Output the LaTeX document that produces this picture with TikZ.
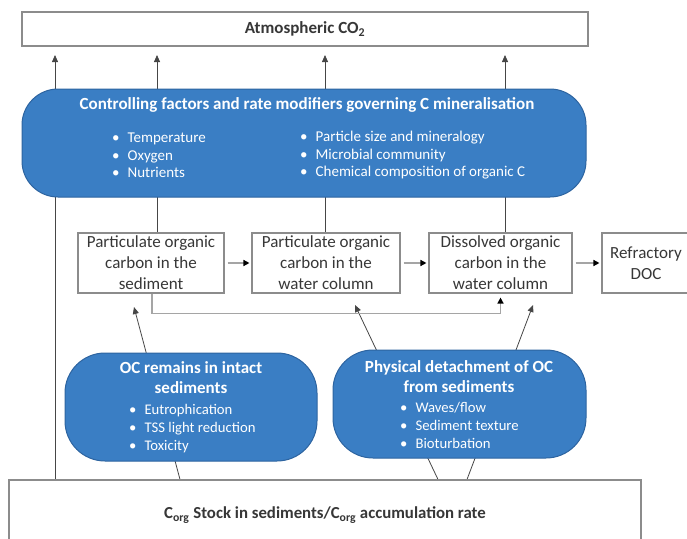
\documentclass[tikz,border=0pt]{standalone}
\usepackage{fontspec}
\setmainfont{Carlito}
\usetikzlibrary{arrows.meta,backgrounds}
\definecolor{cblue}{RGB}{58,126,196}
\definecolor{cbord}{RGB}{45,100,160}
\definecolor{lgray}{RGB}{140,140,140}
\definecolor{hgray}{RGB}{165,165,165}
\definecolor{dgray}{RGB}{70,70,70}
\definecolor{tgray}{RGB}{55,55,55}
\begin{document}
\begin{tikzpicture}[x=1pt,y=-1pt,
 wbox/.style={draw=lgray,line width=1.1pt,fill=white,inner sep=0pt,align=center,text=tgray},
 bbox/.style={draw=cbord,line width=1pt,fill=cblue,rounded corners=36pt,inner sep=0pt},
 wtxt/.style={text=white,align=left,inner sep=0pt},
 arr/.style={draw=dgray,line width=0.8pt,-{Triangle[length=7pt,width=6pt]}},
 harr/.style={draw=hgray,line width=1.4pt,-{Triangle[length=6pt,width=6pt,color=black]}},
]
\useasboundingbox (0,0) rectangle (687,538);

% boxes
\node[wbox,minimum width=566pt,minimum height=34pt,font=\fontsize{17}{19}\selectfont\bfseries] (atm) at (305,29) {Atmospheric CO\textsubscript{2}};

\node[bbox,minimum width=564pt,minimum height=108pt] (ctrl) at (304,143) {};
\node[wtxt,font=\fontsize{17}{19}\selectfont\bfseries] (ctrlT) at (307,105) {Controlling factors and rate modifiers governing C mineralisation};
\node[wtxt,anchor=west,font=\fontsize{15}{17.5}\selectfont] (ctrlL) at (112,155.5) {\textbullet\hspace{8pt}Temperature\\\textbullet\hspace{8pt}Oxygen\\\textbullet\hspace{8pt}Nutrients};
\node[wtxt,anchor=west,font=\fontsize{15}{17.5}\selectfont] (ctrlR) at (300,155.5) {\textbullet\hspace{8pt}Particle size and mineralogy\\\textbullet\hspace{8pt}Microbial community\\\textbullet\hspace{8pt}Chemical composition of organic C};

\node[wbox,minimum width=146pt,minimum height=60pt,font=\fontsize{17}{21}\selectfont] (p1) at (151,263) {Particulate organic\\carbon in the\\sediment};
\node[wbox,minimum width=148pt,minimum height=60pt,font=\fontsize{17}{21}\selectfont] (p2) at (326,263) {Particulate organic\\carbon in the\\water column};
\node[wbox,minimum width=143pt,minimum height=60pt,font=\fontsize{17}{21}\selectfont] (p3) at (500.5,263) {Dissolved organic\\carbon in the\\water column};
\node[wbox,minimum width=88pt,minimum height=60pt,font=\fontsize{17}{21}\selectfont] (p4) at (646,263) {Refractory\\DOC};

\node[bbox,minimum width=252pt,minimum height=108pt,rounded corners=40pt] (oc) at (191,407) {};
\node[wtxt,align=center,font=\fontsize{17}{20}\selectfont\bfseries] (ocT) at (191,378) {OC remains in intact\\sediments};
\node[wtxt,anchor=west,font=\fontsize{14.7}{18}\selectfont] (ocB) at (129,429) {\textbullet\hspace{8pt}Eutrophication\\\textbullet\hspace{8pt}TSS light reduction\\\textbullet\hspace{8pt}Toxicity};

\node[bbox,minimum width=253pt,minimum height=108pt,rounded corners=40pt] (ph) at (459.5,404) {};
\node[wtxt,align=center,font=\fontsize{17}{20}\selectfont\bfseries] (phT) at (459,377) {Physical detachment of OC\\from sediments};
\node[wtxt,anchor=west,font=\fontsize{14.7}{18}\selectfont] (phB) at (400,425) {\textbullet\hspace{8pt}Waves/flow\\\textbullet\hspace{8pt}Sediment texture\\\textbullet\hspace{8pt}Bioturbation};

\node[wbox,minimum width=632pt,minimum height=70pt,font=\fontsize{16.8}{19}\selectfont\bfseries] (stock) at (325,515) {C\textsubscript{org} Stock in sediments/C\textsubscript{org} accumulation rate};

% free ends
\coordinate (t1) at (55,55);
\coordinate (t2) at (157,55);
\coordinate (t3) at (325,55);
\coordinate (t4) at (505,55);
\coordinate (b1) at (134,307);
\coordinate (b2) at (355,305);
\coordinate (b3) at (533,305);

\begin{scope}[on background layer]
\draw[arr] (stock.north -| t1) -- (t1);
\draw[arr] (p1.north -| t2) -- (t2);
\draw[arr] (p2.north -| t3) -- (t3);
\draw[arr] (p3.north -| t4) -- (t4);
\draw[arr] ([xshift=-145pt]stock.north) -- (b1);
\draw[arr] ([xshift=113pt]stock.north) -- (b2);
\draw[arr] ([xshift=142pt]stock.north) -- (b3);
\end{scope}

\draw[harr] ([xshift=3pt]p1.east) -- ([xshift=-2pt]p2.west);
\draw[harr] ([xshift=3pt]p2.east) -- ([xshift=-2pt]p3.west);
\draw[harr] ([xshift=3pt]p3.east) -- ([xshift=-2pt]p4.west);
\draw[harr] ([xshift=1pt]p1.south) -- ++(0,20) -| ([yshift=-4pt]p3.south);
\end{tikzpicture}
\end{document}
